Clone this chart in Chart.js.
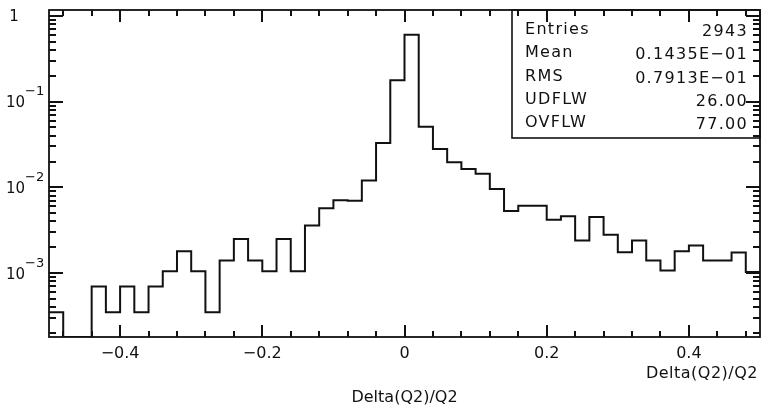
<!DOCTYPE html>
<html>
<head>
<meta charset="utf-8">
<script src="https://cdn.jsdelivr.net/npm/chart.js@4/dist/chart.umd.min.js"></script>
<style>
  html, body { margin: 0; padding: 0; background: #fff; }
</style>
</head>
<body>
<canvas id="hist" width="764" height="419"></canvas>
<script>
// ------------------------------------------------------------
// Delta(Q2)/Q2 histogram, PAW style, log y axis
// ------------------------------------------------------------

// bin edges (50 bins of 0.02)
const binEdges = [
  -0.50, -0.48, -0.46, -0.44, -0.42, -0.40, -0.38, -0.36, -0.34, -0.32,
  -0.30, -0.28, -0.26, -0.24, -0.22, -0.20, -0.18, -0.16, -0.14, -0.12,
  -0.10, -0.08, -0.06, -0.04, -0.02, 0.00, 0.02, 0.04, 0.06, 0.08,
  0.10, 0.12, 0.14, 0.16, 0.18, 0.20, 0.22, 0.24, 0.26, 0.28,
  0.30, 0.32, 0.34, 0.36, 0.38, 0.40, 0.42, 0.44, 0.46, 0.48, 0.50
];

// normalised bin contents (0 = empty bin)
const binValues = [
  3.5e-4, 0, 0, 7.0e-4, 3.5e-4, 7.0e-4, 3.5e-4, 7.0e-4, 1.05e-3, 1.8e-3,
  1.05e-3, 3.5e-4, 1.4e-3, 2.5e-3, 1.4e-3, 1.05e-3, 2.5e-3, 1.05e-3, 3.6e-3, 5.7e-3,
  7.1e-3, 7.0e-3, 1.2e-2, 3.3e-2, 0.178, 0.60, 0.051, 0.028, 0.0196, 0.0164,
  0.0144, 0.0096, 0.0053, 0.0061, 0.0061, 0.0042, 0.0046, 0.0024, 0.0045, 0.0028,
  0.00175, 0.0024, 0.0014, 0.00107, 0.0018, 0.0021, 0.0014, 0.0014, 0.00174, 0.00103
];

const xTickValues = [-0.4, -0.2, 0, 0.2, 0.4];
const xMinorTicks = [
  -0.48, -0.44, -0.36, -0.32, -0.28, -0.24, -0.16, -0.12, -0.08, -0.04,
  0.04, 0.08, 0.12, 0.16, 0.24, 0.28, 0.32, 0.36, 0.44, 0.48
];
const yDecades = [1, 0.1, 0.01, 0.001];
const yDecadeLabels = [['1', ''], ['10', '\u22121'], ['10', '\u22122'], ['10', '\u22123']];
const yMin = 1.8e-4;
const yMax = 1.17;

const statNames = ['Entries', 'Mean', 'RMS', 'UDFLW', 'OVFLW'];
const statValues = ['2943', '0.1435E\u221201', '0.7913E\u221201', '26.00', '77.00'];

const axisTitle = 'Delta(Q2)/Q2';
const INK = '#111';
const FONT = '"DejaVu Sans", sans-serif';

// stepped outline: each point holds the value of the bin starting there
const points = binValues.map((v, i) => ({ x: binEdges[i], y: v > 0 ? v : yMin }));
points.push({ x: binEdges[binEdges.length - 1], y: binValues[binValues.length - 1] > 0 ? binValues[binValues.length - 1] : yMin });

function fmtX(v) {
  if (Math.abs(v) < 1e-9) return '0';
  return (v < 0 ? '\u2212' : '') + Math.abs(v).toFixed(1);
}

// inward tick marks on all four sides, as solid 2px bars
function drawTicks(ctx, a, x, y) {
  const top = Math.round(a.top), bot = Math.round(a.bottom);
  const lft = Math.round(a.left), rgt = Math.round(a.right);
  const vTick = (v, len) => {
    const px = Math.round(x.getPixelForValue(v)) - 1;
    ctx.fillRect(px, bot - len, 2, len);
    ctx.fillRect(px, top, 2, len);
  };
  xTickValues.forEach(v => vTick(v, 12));
  xMinorTicks.forEach(v => vTick(v, 6));
  for (let e = -4; e <= 0; e++) {
    for (let m = 1; m <= 9; m++) {
      const v = m * Math.pow(10, e);
      if (v < yMin || v > yMax) continue;
      const py = Math.round(y.getPixelForValue(v)) - 1;
      const len = m === 1 ? 14 : 7;
      ctx.fillRect(lft, py, len, 2);
      ctx.fillRect(rgt - len, py, len, 2);
    }
  }
}

// frame, ticks, y labels, stats box
const pawFrame = {
  id: 'pawFrame',
  afterDraw(chart) {
    const { ctx, chartArea: a, scales: { x, y } } = chart;
    ctx.save();
    ctx.strokeStyle = INK;

    // stats box (white, covers whatever is behind it)
    const bx = a.right - 248, by = a.top, bh = 128;
    ctx.fillStyle = '#fff';
    ctx.fillRect(bx, by, a.right - bx, bh);
    ctx.lineWidth = 1.6;
    ctx.strokeRect(bx, by, a.right - bx, bh);

    ctx.lineWidth = 1.8;
    ctx.strokeRect(a.left, a.top, a.right - a.left, a.bottom - a.top);
    ctx.fillStyle = INK;
    drawTicks(ctx, a, x, y);

    // y labels: 1, 10^-1 ...
    ctx.textBaseline = 'middle';
    yDecades.forEach((v, i) => {
      const py = y.getPixelForValue(v);
      const [base, exp] = yDecadeLabels[i];
      ctx.font = '15px ' + FONT;
      if (!exp) {
        ctx.textAlign = 'center';
        ctx.fillText(base, 14, py + 1);
        return;
      }
      ctx.textAlign = 'right';
      ctx.fillText(base, 25, py + 2);
      ctx.font = '13px ' + FONT;
      ctx.textAlign = 'left';
      ctx.fillText(exp, 25, py - 10);
    });

    // stats text
    ctx.font = '16px ' + FONT;
    if ('letterSpacing' in ctx) ctx.letterSpacing = '1.3px';
    statNames.forEach((name, i) => {
      const ty = by + 20 + i * 23.3;
      ctx.textAlign = 'left';
      ctx.fillText(name, bx + 13, ty);
      ctx.textAlign = 'right';
      ctx.fillText(statValues[i], a.right - 12, ty + 2);
    });
    if ('letterSpacing' in ctx) ctx.letterSpacing = '0.5px';

    // second axis title at the right
    ctx.textAlign = 'right';
    ctx.font = '16px ' + FONT;
    ctx.fillText(axisTitle, a.right - 2, 374);
    ctx.restore();
  }
};

new Chart(document.getElementById('hist'), {
  type: 'line',
  data: {
    datasets: [{
      data: points,
      stepped: 'before',
      borderColor: INK,
      borderWidth: 2,
      pointRadius: 0,
      fill: false,
    }]
  },
  options: {
    responsive: false,
    animation: false,
    layout: { padding: { top: 10, right: 4, left: 0, bottom: 0 } },
    plugins: { legend: { display: false }, tooltip: { enabled: false } },
    scales: {
      x: {
        type: 'linear',
        min: -0.5,
        max: 0.5,
        grid: { display: false, drawTicks: false },
        border: { display: false },
        afterBuildTicks: s => { s.ticks = xTickValues.map(v => ({ value: v })); },
        afterFit: s => { s.height = 82; },
        ticks: {
          autoSkip: false,
          maxRotation: 0,
          padding: 7,
          color: INK,
          font: { family: FONT, size: 16 },
          callback: v => fmtX(v),
        },
        title: {
          display: true,
          text: axisTitle,
          color: INK,
          font: { family: FONT, size: 16 },
          padding: { top: 0, bottom: 12 },
        },
      },
      y: {
        type: 'logarithmic',
        min: yMin,
        max: yMax,
        grid: { display: false, drawTicks: false },
        border: { display: false },
        ticks: { display: false },
        afterFit: s => { s.width = 49; },
      },
    },
  },
  plugins: [pawFrame],
});
</script>
</body>
</html>
